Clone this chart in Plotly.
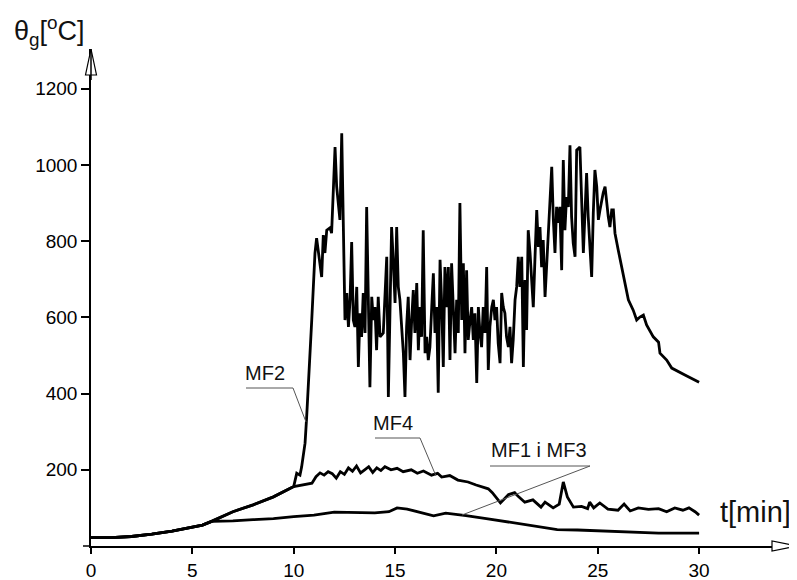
import plotly.graph_objects as go

# ---------------- data ----------------
x_ticks = [0, 5, 10, 15, 20, 25, 30]
y_ticks = [200, 400, 600, 800, 1000, 1200]
y_tick_text = ["200", "400", "600", "800", "1000", "1200"]

mf13_t = [0, 1, 2, 3, 4, 5, 5.5, 6, 7, 8, 9, 10, 11, 12, 13, 14, 14.7, 15.1, 15.6,
          16.2, 16.9, 17.5, 18.5, 19.5, 20, 21, 22, 22.5, 23, 24, 25, 26, 27, 28, 29, 30]
mf13_v = [22, 22, 25, 31, 39, 49, 55, 65, 66, 69, 72, 77, 81, 89, 88, 87, 90, 100, 97,
          88, 79, 86, 80, 72, 68, 60, 52, 47, 43, 42, 40, 37, 35, 34, 34, 34]

mf4_t = [0, 1, 2, 3, 4, 5, 5.5, 6, 7, 8, 9, 10, 10.5, 10.9, 11.1, 11.3, 11.5, 11.7, 11.9,
         12.1, 12.3, 12.5, 12.7, 12.9, 13.1, 13.3, 13.5, 13.7, 13.9, 14.1, 14.3, 14.5, 14.8,
         15.1, 15.4, 15.8, 16.1, 16.4, 16.8, 17.1, 17.3, 17.7, 18.1, 18.6, 19.0, 19.3, 19.6,
         19.8, 20.2, 20.6, 20.9, 21.1, 21.4, 21.8, 22.2, 22.4, 22.8, 23.1, 23.3, 23.5, 23.8,
         24.2, 24.5, 24.6, 24.8, 25.1, 25.5, 26.0, 26.3, 26.6, 27.0, 27.5, 28.0, 28.4, 28.8,
         29.2, 29.5, 29.8, 30.0]
mf4_v = [22, 22, 25, 31, 39, 49, 55, 66, 90, 108, 129, 156, 160, 165, 182, 192, 186, 195, 190,
         178, 195, 188, 205, 196, 210, 192, 200, 208, 193, 205, 198, 208, 200,
         204, 195, 200, 191, 197, 186, 191, 181, 185, 173, 168, 160, 155, 150,
         140, 113, 135, 140, 129, 115, 121, 102, 115, 100, 110, 168, 129, 102,
         104, 98, 115, 100, 113, 97, 94, 110, 92, 100, 96, 98, 90, 100,
         94, 100, 90, 81]

mf2_t = [0, 1, 2, 3, 4, 5, 5.5, 6, 7, 8, 9, 10, 10.06, 10.15, 10.31, 10.39, 10.56, 10.64,
         10.89, 11.05, 11.13, 11.3, 11.38, 11.46, 11.54, 11.63, 11.79, 11.87, 11.95, 12.04,
         12.12, 12.2, 12.28, 12.37, 12.45, 12.53, 12.62, 12.7, 12.78, 12.86, 12.94, 13.02,
         13.11, 13.19, 13.27, 13.35, 13.43, 13.52, 13.6, 13.68, 13.76, 13.85, 13.93, 14.01,
         14.09, 14.17, 14.26, 14.42, 14.59, 14.67, 14.75, 14.83, 14.91, 15.0, 15.08, 15.16,
         15.24, 15.33, 15.41, 15.49, 15.57, 15.65, 15.74, 15.82, 15.9, 15.98, 16.07, 16.15,
         16.23, 16.31, 16.39, 16.48, 16.56, 16.64, 16.72, 16.81, 16.89, 16.97, 17.05, 17.13,
         17.22, 17.3, 17.38, 17.46, 17.55, 17.63, 17.71, 17.79, 17.87, 17.96, 18.04, 18.12,
         18.2, 18.29, 18.37, 18.45, 18.53, 18.61, 18.7, 18.78, 18.86, 18.94, 19.03, 19.11,
         19.19, 19.27, 19.35, 19.44, 19.52, 19.6, 19.68, 19.77, 19.85, 19.93, 20.01, 20.09,
         20.18, 20.26, 20.34, 20.42, 20.5, 20.59, 20.67, 20.75, 20.83, 20.92, 21.0, 21.08,
         21.16, 21.25, 21.33, 21.41, 21.49, 21.57, 21.66, 21.74, 21.82, 21.9, 21.99, 22.07,
         22.15, 22.23, 22.31, 22.4, 22.48, 22.56, 22.64, 22.73, 22.81, 22.89, 22.97, 23.05,
         23.13, 23.22, 23.3, 23.38, 23.46, 23.55, 23.63, 23.71, 23.79, 23.88, 23.96, 24.12,
         24.21, 24.29, 24.37, 24.45, 24.53, 24.62, 24.7, 24.78, 24.86, 24.95, 25.03, 25.11,
         25.19, 25.27, 25.36, 25.44, 25.52, 25.6, 25.69, 25.77, 25.85, 26.01, 26.18, 26.34,
         26.51, 26.75, 26.92, 27.08, 27.25, 27.41, 27.74, 28.0, 28.07, 28.4, 28.65, 29.3, 30.0]
mf2_v = [22, 22, 25, 31, 39, 49, 55, 66, 90, 108, 129, 156, 173, 191, 186, 207, 270, 339,
         593, 769, 808, 732, 706, 816, 769, 829, 835, 821, 934, 1047,
         943, 900, 856, 1083, 769, 593, 664, 575, 646, 798, 593, 575,
         680, 470, 611, 549, 664, 559, 890, 593, 417, 654, 593, 627,
         514, 654, 549, 559, 759, 391, 680, 837, 751, 638, 837, 680,
         646, 575, 506, 391, 575, 654, 488, 593, 672, 559, 690, 514,
         627, 549, 829, 506, 549, 488, 522, 627, 716, 559, 627, 402,
         751, 638, 470, 732, 627, 732, 488, 742, 611, 506, 646, 559,
         900, 593, 742, 506, 724, 541, 593, 627, 541, 611, 428, 627,
         559, 522, 627, 559, 732, 462, 575, 627, 646, 593, 627, 532,
         480, 664, 627, 611, 549, 522, 575, 480, 541, 646, 680, 759,
         680, 759, 470, 698, 567, 829, 769, 690, 627, 751, 882, 785,
         837, 732, 803, 654, 732, 821, 908, 995, 856, 769, 890, 848,
         890, 724, 1013, 829, 916, 890, 1052, 864, 795, 759, 1039, 1047,
         900, 769, 874, 979, 864, 785, 706, 874, 987, 943, 856, 882,
         908, 927, 943, 900, 864, 837, 882, 882, 821, 777, 732, 690,
         646, 619, 593, 601, 606, 580, 549, 535, 506, 488, 467, 449, 430]

# ---------------- layout geometry ----------------
OFF = 8                      # default page (body) margin of the html page
W, H = 797 - OFF, 580 - OFF
L, R, T, B = 91 - OFF, 0, 49 - OFF, 34
PW, PH = W - L - R, H - T - B


def px(xp):
    """page pixel x -> paper coordinate"""
    return (xp - OFF - L) / PW


def py(yp):
    """page pixel y -> paper coordinate"""
    return (H - B - (yp - OFF)) / PH


line_style = dict(color="black", width=2.8)

fig = go.Figure()
fig.add_trace(go.Scatter(x=mf13_t, y=mf13_v, mode="lines", line=line_style, name="MF1 i MF3"))
fig.add_trace(go.Scatter(x=mf4_t, y=mf4_v, mode="lines", line=line_style, name="MF4"))
fig.add_trace(go.Scatter(x=mf2_t, y=mf2_v, mode="lines", line=line_style, name="MF2"))

font_main = "Liberation Sans, Arial, sans-serif"

fig.update_layout(
    width=W, height=H,
    margin=dict(l=L, r=R, t=T, b=B, pad=0),
    paper_bgcolor="white", plot_bgcolor="white",
    showlegend=False,
    font=dict(family=font_main, size=19, color="black"),
    xaxis=dict(range=[0, PW / 20.27], tickvals=x_ticks, ticks="outside", ticklen=6,
               tickwidth=1.5, tickcolor="black", showline=True, linecolor="black",
               linewidth=1.5, showgrid=False, zeroline=False,
               tickfont=dict(size=19, family=font_main)),
    yaxis=dict(range=[0, PH * 1000 / 381], tickvals=y_ticks, ticktext=y_tick_text,
               ticks="outside", ticklen=8, tickwidth=1.5, tickcolor="black",
               showline=True, linecolor="black", linewidth=1.5, showgrid=False,
               zeroline=False, tickfont=dict(size=19, family=font_main)),
)

shapes = []
# small tick at the origin, left of the y axis
shapes.append(dict(type="line", xref="paper", yref="paper",
                   x0=px(83), y0=0, x1=0, y1=0,
                   line=dict(color="black", width=1.5)))
# axis arrowheads (hollow)
shapes.append(dict(type="path", xref="paper", yref="paper",
                   path=f"M {px(91)},{py(49)} L {px(85.5)},{py(75)} L {px(96.5)},{py(75)} Z",
                   line=dict(color="black", width=1.2), fillcolor="white"))
shapes.append(dict(type="line", xref="paper", yref="paper",
                   x0=px(91), y0=py(49), x1=px(91), y1=py(80),
                   line=dict(color="black", width=1.5)))
shapes.append(dict(type="path", xref="paper", yref="paper",
                   path=f"M {px(796.5)},{py(546)} L {px(772)},{py(541)} L {px(772)},{py(551)} Z",
                   line=dict(color="black", width=1.2), fillcolor="white"))

# leader lines
leaders = [
    [(246, 388), (293, 388), (306, 422)],
    [(375, 438), (420, 438), (436, 476)],
    [(490, 466), (590, 466), (462, 515)],
]
for pts in leaders:
    path = "M " + " L ".join(f"{px(a)},{py(b)}" for a, b in pts)
    shapes.append(dict(type="path", xref="paper", yref="paper", path=path,
                       line=dict(color="#555555", width=1)))
fig.update_layout(shapes=shapes)

labels = [("MF2", 265, 373), ("MF4", 393, 423), ("MF1 i MF3", 539, 450)]
for txt, a, b in labels:
    fig.add_annotation(text=txt, x=px(a), y=py(b), xref="paper", yref="paper",
                       showarrow=False, xanchor="center", yanchor="middle",
                       font=dict(size=20, color="#111111", family=font_main))

fig.add_annotation(text="t[min]", x=px(755), y=py(512), xref="paper", yref="paper",
                   showarrow=False, xanchor="center", yanchor="middle",
                   font=dict(size=29, color="#111111", family=font_main))
fig.add_annotation(text="θ<sub>g</sub>[<sup>o</sup>C]", x=px(49), y=py(31),
                   xref="paper", yref="paper", showarrow=False,
                   xanchor="center", yanchor="middle",
                   font=dict(size=27, color="#111111", family=font_main))

fig.write_html("out.html")
